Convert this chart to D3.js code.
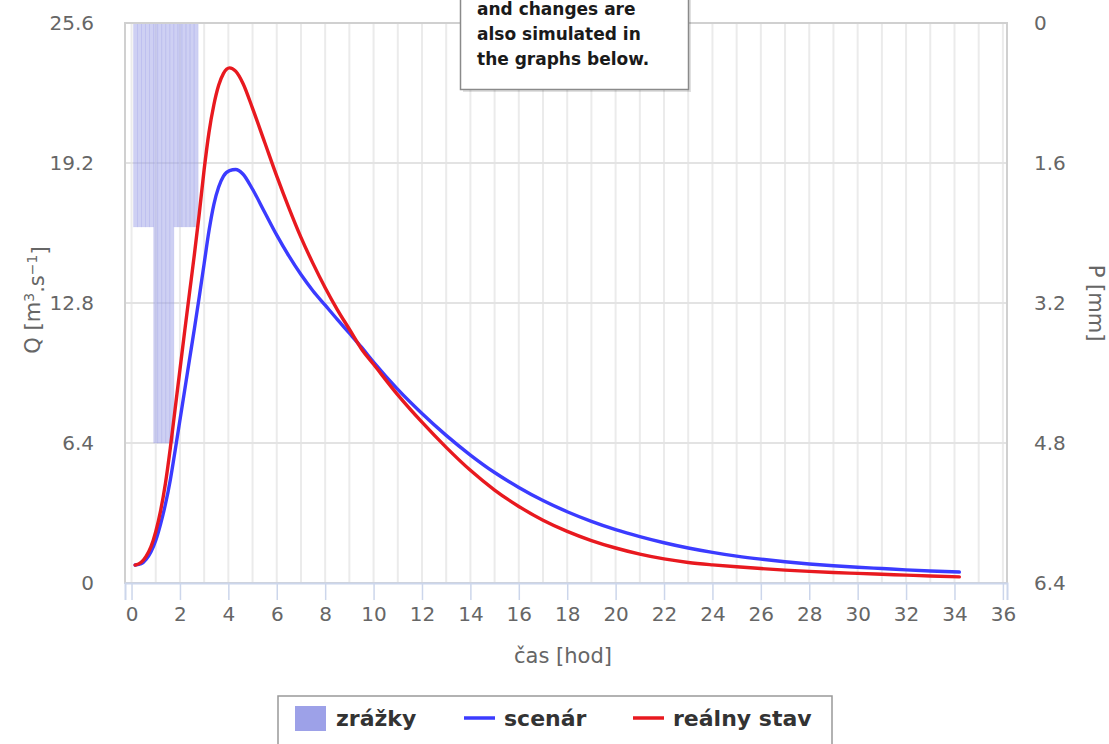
<!DOCTYPE html>
<meta charset="utf-8">
<style>
    body { margin: 0; background: #fff; }
    svg text { font-family: "DejaVu Sans", sans-serif; }
</style>
<script src="https://d3js.org/d3.v7.min.js"></script>
<div id="graph"></div>
<script>
    // time axis for both hydrographs [hod]
    var casHod = [0.15, 0.4, 0.6, 0.8, 1.0, 1.2, 1.4, 1.6, 1.8, 2.0, 2.2, 2.4, 2.6, 2.8, 3.0, 3.2, 3.4, 3.6, 3.8,
        4.05, 4.3, 4.6, 5.0, 5.5, 6.0, 6.5, 7.0, 7.5, 8.0, 8.5, 9.0, 9.5, 10, 11, 12, 13, 14, 15, 16, 17, 18,
        19, 20, 21, 22, 23, 24, 25, 26, 27, 28, 29, 30, 31, 32, 33, 34.2]

    // Q [m3/s]
    var scenar = [0.82, 0.88, 1.08, 1.42, 1.95, 2.7, 3.6, 4.7, 6.05, 7.45, 8.85, 10.25, 11.65, 13.1, 14.6, 16.1, 17.3, 18.1, 18.6,
        18.85, 18.9, 18.7, 18.0, 16.95, 15.9, 14.95, 14.1, 13.35, 12.7, 12.05, 11.42, 10.78, 10.1, 8.85, 7.75, 6.75, 5.85, 5.05, 4.37, 3.77, 3.26,
        2.82, 2.44, 2.12, 1.84, 1.6, 1.4, 1.23, 1.09, 0.97, 0.87, 0.79, 0.72, 0.66, 0.6, 0.55, 0.5]

    var realnyStav = [0.82, 0.95, 1.22, 1.65, 2.35, 3.3, 4.55, 6.15, 7.95, 9.75, 11.55, 13.3, 15.05, 16.9, 18.9, 20.6, 21.85, 22.75, 23.3,
        23.55, 23.4, 22.85, 21.7, 20.15, 18.6, 17.15, 15.8, 14.6, 13.5, 12.5, 11.6, 10.7, 10.0, 8.6, 7.35, 6.2, 5.15, 4.25, 3.5, 2.87, 2.36,
        1.94, 1.6, 1.32, 1.1, 0.94, 0.83, 0.74, 0.66, 0.59, 0.53, 0.48, 0.44, 0.4, 0.36, 0.32, 0.28]

    // precipitation, 10-minute steps (bar centres in hours) [mm]
    var zrazkyCas = [0.167, 0.333, 0.5, 0.667, 0.833, 1.0, 1.167, 1.333, 1.5, 1.667, 1.833, 2.0, 2.167, 2.333, 2.5, 2.667]
    var zrazky = [2.33, 2.33, 2.33, 2.33, 2.33, 4.8, 4.8, 4.8, 4.8, 4.8, 2.33, 2.33, 2.33, 2.33, 2.33, 2.33]

    var xTicks = d3.range(0, 37, 2)
    var qTicks = [0, 6.4, 12.8, 19.2, 25.6]
    var pTicks = [0, 1.6, 3.2, 4.8, 6.4]

    var noteLines = ["and changes are", "also simulated in", "the graphs below."]
    var legendItems = [
        { name: "zrážky", type: "bar", color: "#9da1e8" },
        { name: "scenár", type: "line", color: "#3b3bff" },
        { name: "reálny stav", type: "line", color: "#e8191f" }
    ]

    var W = 1109, H = 744
    var plot = { left: 125, right: 1007, top: 23, bottom: 583 }

    var svg = d3.select("#graph").append("svg")
        .attr("width", W)
        .attr("height", H)

    var x = d3.scaleLinear().domain([-0.27, 36.17]).range([plot.left, plot.right])
    var yQ = d3.scaleLinear().domain([0, 25.6]).range([plot.bottom, plot.top])
    var yP = d3.scaleLinear().domain([0, 6.4]).range([plot.top, plot.bottom])

    var fmt = function (d) { return d === 0 ? "0" : d3.format(".1f")(d) }

    // vertical grid (every hour)
    svg.append("g").selectAll("line")
        .data(d3.range(0, 37, 1))
        .enter().append("line")
        .attr("x1", function (d) { return x(d) })
        .attr("x2", function (d) { return x(d) })
        .attr("y1", plot.top)
        .attr("y2", plot.bottom)
        .attr("stroke", "#ebebeb")
        .attr("stroke-width", 2)

    // horizontal grid
    svg.append("g").selectAll("line")
        .data(qTicks)
        .enter().append("line")
        .attr("x1", plot.left)
        .attr("x2", plot.right)
        .attr("y1", function (d) { return yQ(d) })
        .attr("y2", function (d) { return yQ(d) })
        .attr("stroke", "#e3e3e3")
        .attr("stroke-width", 2)

    // precipitation bars hanging from the top
    var bw = 1 / 6
    svg.append("g").selectAll("rect")
        .data(zrazky)
        .enter().append("rect")
        .attr("x", function (d, i) { return x(zrazkyCas[i] - bw / 2) })
        .attr("width", function (d, i) { return x(zrazkyCas[i] + bw / 2) - x(zrazkyCas[i] - bw / 2) })
        .attr("y", yP(0))
        .attr("height", function (d) { return yP(d) - yP(0) })
        .attr("fill", "#9da1e8")
        .attr("fill-opacity", 0.5)
        .attr("stroke", "#9da1e8")
        .attr("stroke-opacity", 0.35)
        .attr("stroke-width", 0.6)

    // plot border
    svg.append("rect")
        .attr("x", plot.left)
        .attr("y", plot.top)
        .attr("width", plot.right - plot.left)
        .attr("height", plot.bottom - plot.top)
        .attr("fill", "none")
        .attr("stroke", "#d0d0d0")
        .attr("stroke-width", 2)

    // hydrographs
    var line = function (vals) {
        return d3.line()
            .x(function (d, i) { return x(casHod[i]) })
            .y(function (d) { return yQ(d) })
            .curve(d3.curveMonotoneX)(vals)
    }
    svg.append("path")
        .attr("d", line(scenar))
        .attr("fill", "none")
        .attr("stroke", "#3b3bff")
        .attr("stroke-width", 3.4)
        .attr("stroke-linejoin", "round")
        .attr("stroke-linecap", "round")
    svg.append("path")
        .attr("d", line(realnyStav))
        .attr("fill", "none")
        .attr("stroke", "#e8191f")
        .attr("stroke-width", 3.4)
        .attr("stroke-linejoin", "round")
        .attr("stroke-linecap", "round")

    // x axis
    var xAxis = svg.append("g")
        .attr("transform", "translate(0," + plot.bottom + ")")
        .call(d3.axisBottom(x).tickValues(xTicks).tickSize(17).tickPadding(7).tickFormat(d3.format("d")))
    xAxis.select(".domain").attr("stroke", "#ccd6eb").attr("stroke-width", 2)
    xAxis.selectAll(".tick line").attr("stroke", "#ccd6eb").attr("stroke-width", 1.5)
    xAxis.selectAll("text").attr("fill", "#666").style("font-size", "20px")

    // left axis Q
    var qAxis = svg.append("g")
        .attr("transform", "translate(" + plot.left + ",0)")
        .call(d3.axisLeft(yQ).tickValues(qTicks).tickSize(0).tickPadding(31).tickFormat(fmt))
    qAxis.select(".domain").remove()
    qAxis.selectAll("text").attr("fill", "#666").style("font-size", "20px")

    // right axis P
    var pAxis = svg.append("g")
        .attr("transform", "translate(" + plot.right + ",0)")
        .call(d3.axisRight(yP).tickValues(pTicks).tickSize(0).tickPadding(27).tickFormat(fmt))
    pAxis.select(".domain").remove()
    pAxis.selectAll("text").attr("fill", "#666").style("font-size", "20px")

    // axis titles
    svg.append("text")
        .attr("x", 563)
        .attr("y", 663)
        .attr("text-anchor", "middle")
        .attr("fill", "#666")
        .style("font-size", "21px")
        .text("čas [hod]")

    var qTitle = svg.append("text")
        .attr("transform", "translate(33,300) rotate(-90)")
        .attr("text-anchor", "middle")
        .attr("dy", "0.35em")
        .attr("fill", "#666")
        .style("font-size", "21px")
    qTitle.append("tspan").text("Q [m")
    qTitle.append("tspan").attr("dy", "-0.45em").style("font-size", "14px").text("3")
    qTitle.append("tspan").attr("dy", "0.45em").text(".s")
    qTitle.append("tspan").attr("dy", "-0.45em").style("font-size", "14px").text("−1")
    qTitle.append("tspan").attr("dy", "0.45em").text("]")

    svg.append("text")
        .attr("transform", "translate(1096,303) rotate(90)")
        .attr("text-anchor", "middle")
        .attr("dy", "0.35em")
        .attr("fill", "#666")
        .style("font-size", "21px")
        .text("P [mm]")

    // note box cut by the top edge
    svg.append("rect")
        .attr("x", 463).attr("y", -40).attr("width", 228).attr("height", 132)
        .attr("fill", "#000").attr("opacity", 0.12)
    svg.append("rect")
        .attr("x", 460.5).attr("y", -40).attr("width", 228).attr("height", 129.5)
        .attr("fill", "#fff").attr("stroke", "#8a8a8a").attr("stroke-width", 1.5)
    svg.append("g").selectAll("text")
        .data(noteLines)
        .enter().append("text")
        .attr("x", 477)
        .attr("y", function (d, i) { return 15 + i * 25 })
        .attr("fill", "#1a1a1a")
        .style("font-size", "17px")
        .style("font-weight", "bold")
        .text(function (d) { return d })

    // legend
    var lg = svg.append("g")
    lg.append("rect")
        .attr("x", 278).attr("y", 696).attr("width", 554).attr("height", 70)
        .attr("fill", "#fff").attr("stroke", "#999").attr("stroke-width", 1.5)
    var itemX = [295, 464, 633]
    legendItems.forEach(function (it, i) {
        var g = lg.append("g").attr("transform", "translate(" + itemX[i] + ",718)")
        if (it.type === "bar") {
            g.append("rect").attr("x", 0).attr("y", -12).attr("width", 31).attr("height", 25).attr("fill", it.color)
        } else {
            g.append("line").attr("x1", 0).attr("x2", 31).attr("y1", 0).attr("y2", 0)
                .attr("stroke", it.color).attr("stroke-width", 3.5)
        }
        g.append("text")
            .attr("x", it.type === "bar" ? 41 : 40)
            .attr("y", 8)
            .attr("fill", "#333")
            .style("font-size", "22px")
            .style("font-weight", "bold")
            .text(it.name)
    })
</script>
